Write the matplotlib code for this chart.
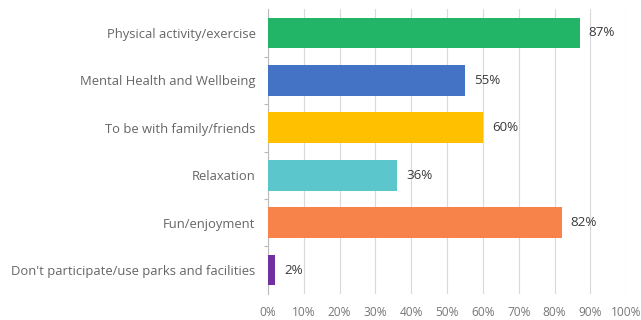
import numpy as np
import matplotlib
matplotlib.use("Agg")
import matplotlib.pyplot as plt
from matplotlib.ticker import FixedLocator

plt.rcParams['font.family'] = ['Open Sans', 'DejaVu Sans']

categories = [
    "Physical activity/exercise",
    "Mental Health and Wellbeing",
    "To be with family/friends",
    "Relaxation",
    "Fun/enjoyment",
    "Don't participate/use parks and facilities",
]
values = [87, 55, 60, 36, 82, 2]
colors = ["#22B567", "#4472C4", "#FFC000", "#5BC6CC", "#F7834A", "#7030A0"]
xticks = list(range(0, 101, 10))

fig = plt.figure(figsize=(6.41, 3.2), dpi=100)
ax = fig.add_axes([0.418, 0.082, 0.559, 0.889])

y = np.arange(len(categories))
ax.barh(y, values, height=0.65, color=colors, zorder=3)
ax.set_ylim(len(categories) - 0.5, -0.5)
ax.set_xlim(0, 100)

# value labels just past the end of each bar
for yi, v in zip(y, values):
    ax.text(v + 2.5, yi, f"{v}%", va="center", ha="left",
            fontsize=9.6, color="#3a3a3a")

ax.set_yticks(y)
ax.set_yticklabels(categories, fontsize=9.4, color="#666666")
ax.yaxis.set_minor_locator(FixedLocator(np.arange(0.5, len(categories) - 1, 1)))
ax.tick_params(axis="y", which="major", length=0, pad=9)
ax.tick_params(axis="y", which="minor", length=3, color="#bbbbbb", width=0.8)

ax.set_xticks(xticks)
ax.set_xticklabels([f"{t}%" for t in xticks], fontsize=8.6, color="#777777")
ax.tick_params(axis="x", length=0, pad=9)
ax.grid(axis="x", color="#d9d9d9", linewidth=0.8, zorder=0)

for side in ["top", "right", "bottom"]:
    ax.spines[side].set_visible(False)
ax.spines["left"].set_color("#bbbbbb")
ax.spines["left"].set_linewidth(0.8)

fig.savefig("out.png", dpi=100)
